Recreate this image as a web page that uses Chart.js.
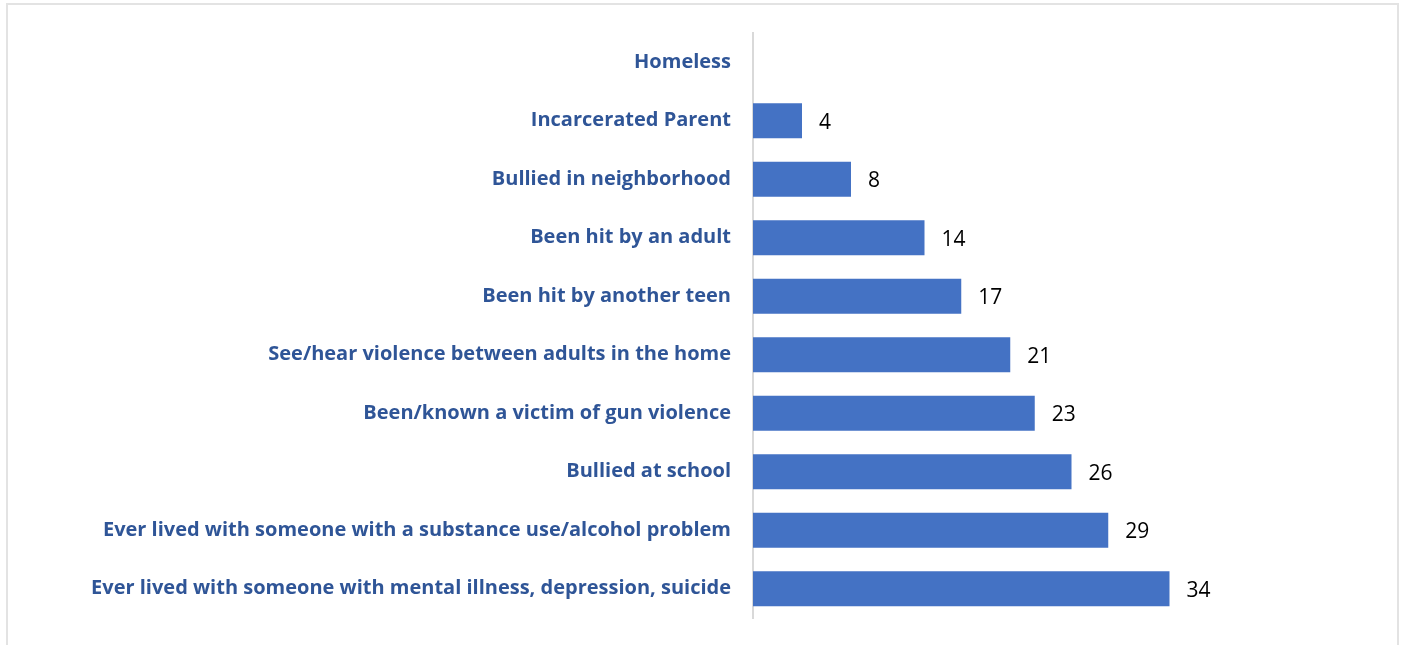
<!DOCTYPE html>
<html>
<head>
<meta charset="utf-8">
<script src="https://cdn.jsdelivr.net/npm/chart.js@4/dist/chart.umd.min.js"></script>
<style>
  html, body { margin: 0; padding: 0; background: #fff; overflow: hidden; }
  #frame { position: absolute; left: 6px; top: 3px; width: 1393px; height: 700px; border: 2px solid #e3e3e3; box-sizing: border-box; }
  #wrap { position: absolute; left: 0; top: 0; width: 1401px; height: 645px; }
</style>
</head>
<body>
<div id="frame"></div>
<div id="wrap"><canvas id="c" width="1401" height="645"></canvas></div>
<script>
const categories = [
  "Homeless",
  "Incarcerated Parent",
  "Bullied in neighborhood",
  "Been hit by an adult",
  "Been hit by another teen",
  "See/hear violence between adults in the home",
  "Been/known a victim of gun violence",
  "Bullied at school",
  "Ever lived with someone with a substance use/alcohol problem",
  "Ever lived with someone with mental illness, depression, suicide"
];
const values = [null, 4, 8, 14, 17, 21, 23, 26, 29, 34];

// Writes each bar's value just past its end
const valueLabels = {
  id: 'valueLabels',
  afterDatasetsDraw(chart) {
    const ctx = chart.ctx;
    const meta = chart.getDatasetMeta(0);
    ctx.save();
    ctx.font = '21px "Open Sans"';
    ctx.fillStyle = '#000';
    ctx.textAlign = 'left';
    ctx.textBaseline = 'middle';
    meta.data.forEach((bar, i) => {
      const v = values[i];
      if (v === null || v === undefined) return;
      ctx.fillText(String(v), bar.x + 17, bar.y + 2);
    });
    ctx.restore();
  }
};

new Chart(document.getElementById('c'), {
  type: 'bar',
  data: {
    labels: categories,
    datasets: [{
      data: values,
      backgroundColor: '#4472C4',
      borderWidth: 0,
      categoryPercentage: 1.0,
      barPercentage: 0.6
    }]
  },
  options: {
    indexAxis: 'y',
    responsive: false,
    animation: false,
    layout: { padding: { top: 33, bottom: 27, left: 0, right: 158 } },
    plugins: { legend: { display: false }, tooltip: { enabled: false } },
    scales: {
      x: { display: false, min: 0, max: 40 },
      y: {
        afterFit(scale) {
          scale.width = 753;
          scale.paddingTop = 0;
          scale.paddingBottom = 0;
        },
        grid: { display: false, drawTicks: false },
        border: { display: true, color: '#d9d9d9', width: 2 },
        ticks: {
          padding: 22,
          color: '#2F5597',
          font: { family: '"Open Sans"', weight: 'bold', size: 20 }
        }
      }
    }
  },
  plugins: [valueLabels]
});
</script>
</body>
</html>
